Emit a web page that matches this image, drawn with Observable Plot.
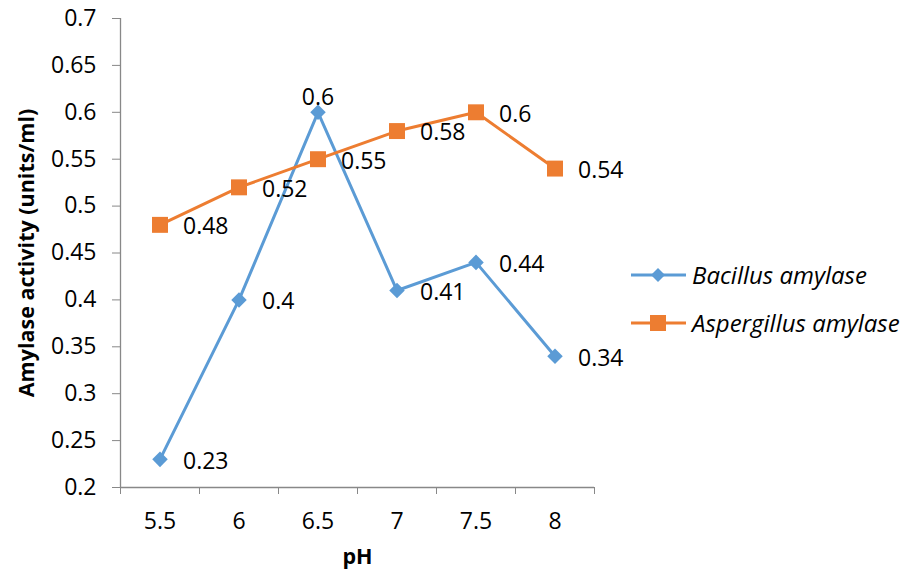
<!DOCTYPE html>
<html>
<head>
<meta charset="utf-8">
<script src="https://cdn.jsdelivr.net/npm/d3@7"></script>
<script src="https://cdn.jsdelivr.net/npm/@observablehq/plot@0.6"></script>
<style>
  html, body { margin: 0; padding: 0; background: #fff; }
  #wrap { position: relative; width: 910px; height: 577px; font-family: "Open Sans", sans-serif; }
  .leg { position: absolute; left: 630px; display: flex; align-items: center; font-style: italic; font-size: 24px; color: #000; white-space: nowrap; }
  .leg svg { margin-right: 5px; }
</style>
</head>
<body>
<div id="wrap"></div>
<script>
const pH = [5.5, 6, 6.5, 7, 7.5, 8];
const bacillus = [0.23, 0.4, 0.6, 0.41, 0.44, 0.34];
const aspergillus = [0.48, 0.52, 0.55, 0.58, 0.6, 0.54];
const seriesNames = ["Bacillus amylase", "Aspergillus amylase"];
const yTicks = [0.2, 0.25, 0.3, 0.35, 0.4, 0.45, 0.5, 0.55, 0.6, 0.65, 0.7];
const colors = ["#5B9BD5", "#ED7D31"];

const rows = [];
pH.forEach((p, i) => rows.push({series: seriesNames[0], pH: p, value: bacillus[i]}));
pH.forEach((p, i) => rows.push({series: seriesNames[1], pH: p, value: aspergillus[i]}));
const bRows = rows.filter(d => d.series === seriesNames[0]);
const aRows = rows.filter(d => d.series === seriesNames[1]);

const step = pH[1] - pH[0];
const xDomain = [pH[0] - step / 2, pH[pH.length - 1] + step / 2];
const boundaries = pH.map(p => p - step / 2).concat([pH[pH.length - 1] + step / 2]);

const isAbove = d => d.series === seriesNames[0] && d.value === d3.max(bacillus);

const chart = Plot.plot({
  width: 910,
  height: 577,
  marginLeft: 120,
  marginRight: 316,
  marginTop: 18,
  marginBottom: 90,
  x: {domain: xDomain},
  y: {domain: [0.2, 0.7]},
  style: {fontFamily: "Open Sans, sans-serif", fontSize: "23px", color: "#000", background: "#fff"},
  marks: [
    Plot.axisY({ticks: yTicks, tickSize: 8, tickPadding: 16, tickFormat: d => String(d), stroke: "#888", fill: "#000", label: null, fontSize: 23}),
    Plot.axisX({ticks: boundaries, tickSize: 7, tickFormat: () => "", stroke: "#888", label: null}),
    Plot.axisX({ticks: pH, tickSize: 0, tickPadding: 25, tickFormat: d => String(d), fill: "#000", label: null, fontSize: 23}),
    Plot.ruleX([xDomain[0]], {stroke: "#888", strokeWidth: 1.3}),
    Plot.ruleY([0.2], {stroke: "#888", strokeWidth: 1.3}),
    Plot.line(bRows, {x: "pH", y: "value", stroke: colors[0], strokeWidth: 3}),
    Plot.line(aRows, {x: "pH", y: "value", stroke: colors[1], strokeWidth: 3}),
    Plot.dot(bRows, {x: "pH", y: "value", symbol: "diamond2", fill: colors[0], stroke: "none", r: 7}),
    Plot.dot(aRows, {x: "pH", y: "value", symbol: "square", fill: colors[1], stroke: "none", r: 9}),
    Plot.text(rows.filter(d => !isAbove(d)), {x: "pH", y: "value", text: d => String(d.value), textAnchor: "start", dx: 23, dy: 2, fill: "#000", fontSize: 23}),
    Plot.text(rows.filter(isAbove), {x: "pH", y: "value", text: d => String(d.value), textAnchor: "middle", dy: -15, fill: "#000", fontSize: 23}),
    Plot.text(["Amylase activity (units/ml)"], {frameAnchor: "left", textAnchor: "middle", dx: -93, rotate: -90, fontWeight: "bold", fontSize: 21.5, fill: "#000"}),
    Plot.text(["pH"], {frameAnchor: "bottom", textAnchor: "middle", dy: 76, fontWeight: "bold", fontSize: 21.5, fill: "#000"})
  ]
});

const wrap = document.getElementById("wrap");
wrap.appendChild(chart);

const legendTops = [275, 323];
const symbolsSvg = [
  c => `<polygon points="28,3 35,10 28,17 21,10" fill="${c}"/>`,
  c => `<rect x="20" y="2" width="16" height="16" fill="${c}"/>`
];
seriesNames.forEach((name, i) => {
  const div = document.createElement("div");
  div.className = "leg";
  div.style.top = (legendTops[i] - 17) + "px";
  div.innerHTML = `<svg width="57" height="20"><line x1="1" y1="10" x2="56" y2="10" stroke="${colors[i]}" stroke-width="3"/>${symbolsSvg[i](colors[i])}</svg><span>${name}</span>`;
  wrap.appendChild(div);
});
</script>
</body>
</html>
